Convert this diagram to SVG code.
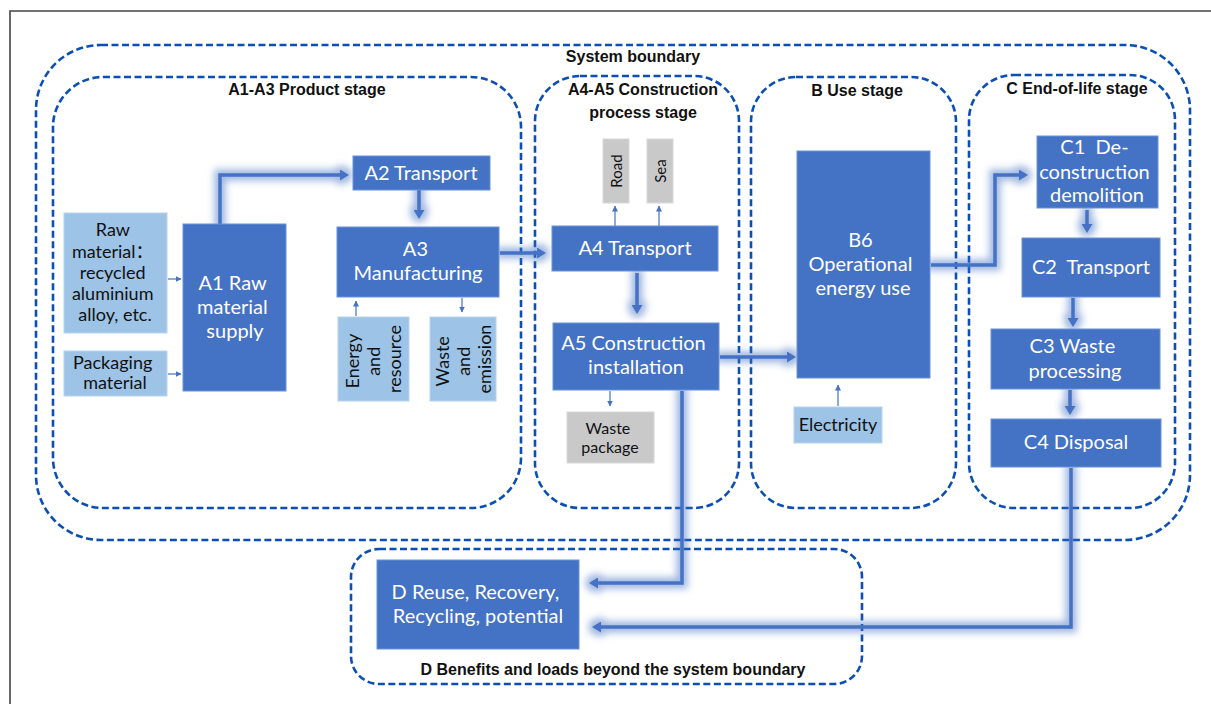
<svg xmlns="http://www.w3.org/2000/svg" width="1211" height="704" viewBox="0 0 1211 704">
  <defs>
    <style>
      .bound { fill: none; stroke: #0B4FB4; stroke-width: 2.6; stroke-dasharray: 7 3.5; }
      .title { font-family: "Liberation Sans", Arial, sans-serif; font-weight: bold; font-size: 16px; fill: #111; text-anchor: middle; }
      .dark { fill: #4472C4; stroke: #6A92D8; stroke-width: 1; }
      .light { fill: #9DC3E6; stroke: #B8D4EE; stroke-width: 1; }
      .grey { fill: #C9C9C9; stroke: #D8D8D8; stroke-width: 1; }
      .wt { font-family: Lato, "Open Sans", sans-serif; font-size: 20px; fill: #FFFFFF; text-anchor: middle; }
      .bt { font-family: Lato, "Open Sans", "Noto Sans CJK SC", sans-serif; font-size: 18px; fill: #111; text-anchor: middle; }
      .flow { fill: none; stroke: #4472C4; stroke-width: 3.5; marker-end: url(#head); }
      .thin { fill: none; stroke: #4472C4; stroke-width: 1.2; marker-end: url(#small); }
    </style>
    <marker id="head" markerUnits="userSpaceOnUse" markerWidth="9" markerHeight="11" viewBox="0 0 9 11" refX="2" refY="5.5" orient="auto">
      <path d="M0,0 L9,5.5 L0,11 z" fill="#4472C4"/>
    </marker>
    <marker id="small" markerUnits="userSpaceOnUse" markerWidth="6" markerHeight="6" viewBox="0 0 6 6" refX="5.5" refY="3" orient="auto">
      <path d="M0,0 L6,3 L0,6 z" fill="#4472C4"/>
    </marker>
    <filter id="glow" filterUnits="userSpaceOnUse" x="0" y="0" width="1211" height="704">
      <feMorphology in="SourceGraphic" operator="dilate" radius="3.5" result="wide"/>
      <feGaussianBlur in="wide" stdDeviation="3.5" result="soft"/>
      <feComponentTransfer in="soft" result="halo">
        <feFuncA type="linear" slope="0.5"/>
      </feComponentTransfer>
      <feMerge>
        <feMergeNode in="halo"/>
        <feMergeNode in="SourceGraphic"/>
      </feMerge>
    </filter>
  </defs>

  <rect width="1211" height="704" fill="#FFFFFF"/>
  <!-- page frame -->
  <path d="M10,704 V11 H1211" fill="none" stroke="#444" stroke-width="1.6"/>

  <!-- stage boundaries -->
  <g id="boundaries">
    <rect class="bound" x="36" y="45" width="1154" height="495" rx="65"/>
    <text class="title" x="633" y="62">System boundary</text>
    <rect class="bound" x="53" y="77" width="468" height="431" rx="50"/>
    <text class="title" x="307" y="95">A1-A3 Product stage</text>
    <rect class="bound" x="535" y="76" width="204" height="432" rx="45"/>
    <text class="title" x="643" y="95">A4-A5 Construction</text>
    <text class="title" x="643" y="118">process stage</text>
    <rect class="bound" x="751" y="77" width="205" height="431" rx="45"/>
    <text class="title" x="857" y="96">B Use stage</text>
    <rect class="bound" x="969" y="75" width="206" height="433" rx="45"/>
    <text class="title" x="1077" y="94">C End-of-life stage</text>
    <rect class="bound" x="351" y="549" width="511" height="135" rx="28"/>
    <text class="title" x="613" y="675">D Benefits and loads beyond the system boundary</text>
  </g>

  <!-- connectors -->
  <g id="connectors">
    <g filter="url(#glow)">
      <path class="flow" d="M220,224 V175 H342"/>
      <path class="flow" d="M419,190 V212"/>
      <path class="flow" d="M500,253 H539"/>
      <path class="flow" d="M637,273 V307"/>
      <path class="flow" d="M720,357 H789"/>
      <path class="flow" d="M682,391 V583 H596"/>
      <path class="flow" d="M931,265 H995 V175 H1021"/>
      <path class="flow" d="M1087,210 V226"/>
      <path class="flow" d="M1073,298 V320"/>
      <path class="flow" d="M1070,390 V408"/>
      <path class="flow" d="M1071,468 V627 H599"/>
    </g>
    <path class="thin" d="M168,279 H181"/>
    <path class="thin" d="M168,374 H181"/>
    <path class="thin" d="M356,316 V301"/>
    <path class="thin" d="M462,298 V312"/>
    <path class="thin" d="M615,226 V206"/>
    <path class="thin" d="M659,226 V206"/>
    <path class="thin" d="M610,391 V406"/>
    <path class="thin" d="M838,406 V385"/>
  </g>

  <!-- product stage -->
  <g id="raw-material">
    <rect class="light" x="64" y="213" width="103" height="120"/>
    <text class="bt">
      <tspan x="115" y="236">Raw</tspan>
      <tspan x="115" y="258">material：</tspan>
      <tspan x="115" y="279">recycled</tspan>
      <tspan x="115" y="300">aluminium</tspan>
      <tspan x="115" y="321">alloy, etc.</tspan>
    </text>
  </g>
  <g id="packaging">
    <rect class="light" x="64" y="351" width="103" height="45"/>
    <text class="bt">
      <tspan x="115" y="369">Packaging</tspan>
      <tspan x="115" y="389">material</tspan>
    </text>
  </g>
  <g id="a1">
    <rect class="dark" x="183" y="224" width="103" height="167"/>
    <text class="wt">
      <tspan x="235" y="290">A1 Raw</tspan>
      <tspan x="235" y="314">material</tspan>
      <tspan x="235" y="338">supply</tspan>
    </text>
  </g>
  <g id="a2">
    <rect class="dark" x="353" y="156" width="137" height="34"/>
    <text class="wt" x="421" y="180">A2 Transport</text>
  </g>
  <g id="a3">
    <rect class="dark" x="337" y="227" width="162" height="70"/>
    <text class="wt">
      <tspan x="418" y="256">A3</tspan>
      <tspan x="418" y="280">Manufacturing</tspan>
    </text>
  </g>
  <g id="energy">
    <rect class="light" x="338" y="317" width="71" height="84"/>
    <text class="bt" transform="translate(373.5,359) rotate(-90)">
      <tspan x="0" y="-14.5">Energy</tspan>
      <tspan x="0" y="6.5">and</tspan>
      <tspan x="0" y="27.5">resource</tspan>
    </text>
  </g>
  <g id="emission">
    <rect class="light" x="430" y="317" width="66" height="84"/>
    <text class="bt" transform="translate(463,359) rotate(-90)">
      <tspan x="0" y="-14.5">Waste</tspan>
      <tspan x="0" y="6.5">and</tspan>
      <tspan x="0" y="27.5">emission</tspan>
    </text>
  </g>

  <!-- construction process stage -->
  <g id="road">
    <rect class="grey" x="603" y="139" width="26" height="64"/>
    <text class="bt" style="font-size:15px" transform="translate(616,171) rotate(-90)" x="0" y="5.5">Road</text>
  </g>
  <g id="sea">
    <rect class="grey" x="647" y="139" width="26" height="64"/>
    <text class="bt" style="font-size:15px" transform="translate(660,171) rotate(-90)" x="0" y="5.5">Sea</text>
  </g>
  <g id="a4">
    <rect class="dark" x="552" y="226" width="166" height="45"/>
    <text class="wt" x="635" y="255">A4 Transport</text>
  </g>
  <g id="a5">
    <rect class="dark" x="553" y="323" width="166" height="67"/>
    <text class="wt">
      <tspan x="636" y="350">A5 Construction</tspan>
      <tspan x="636" y="374">installation</tspan>
    </text>
  </g>
  <g id="waste-package">
    <rect class="grey" x="567" y="412" width="87" height="51"/>
    <text class="bt" style="font-size:16px">
      <tspan x="610" y="434">Waste</tspan>
      <tspan x="610" y="453">package</tspan>
    </text>
  </g>

  <!-- use stage -->
  <g id="b6">
    <rect class="dark" x="797" y="151" width="133" height="227"/>
    <text class="wt">
      <tspan x="863" y="247">B6</tspan>
      <tspan x="863" y="271">Operational</tspan>
      <tspan x="863" y="295">energy use</tspan>
    </text>
  </g>
  <g id="electricity">
    <rect class="light" x="794" y="407" width="88" height="36"/>
    <text class="bt" x="838" y="431">Electricity</text>
  </g>

  <!-- end-of-life stage -->
  <g id="c1">
    <rect class="dark" x="1037" y="136" width="121" height="72"/>
    <text class="wt">
      <tspan x="1097" y="154">C1&#160; De-</tspan>
      <tspan x="1097" y="179">construction</tspan>
      <tspan x="1097" y="202">demolition</tspan>
    </text>
  </g>
  <g id="c2">
    <rect class="dark" x="1022" y="238" width="138" height="59"/>
    <text class="wt" x="1091" y="274">C2&#160; Transport</text>
  </g>
  <g id="c3">
    <rect class="dark" x="991" y="329" width="169" height="60"/>
    <text class="wt">
      <tspan x="1075" y="353">C3 Waste</tspan>
      <tspan x="1075" y="378">processing</tspan>
    </text>
  </g>
  <g id="c4">
    <rect class="dark" x="991" y="419" width="170" height="48"/>
    <text class="wt" x="1076" y="449">C4 Disposal</text>
  </g>

  <!-- beyond the system boundary -->
  <g id="d">
    <rect class="dark" x="377" y="560" width="202" height="89"/>
    <text class="wt">
      <tspan x="478" y="599">D Reuse, Recovery,</tspan>
      <tspan x="478" y="623">Recycling, potential</tspan>
    </text>
  </g>
</svg>
